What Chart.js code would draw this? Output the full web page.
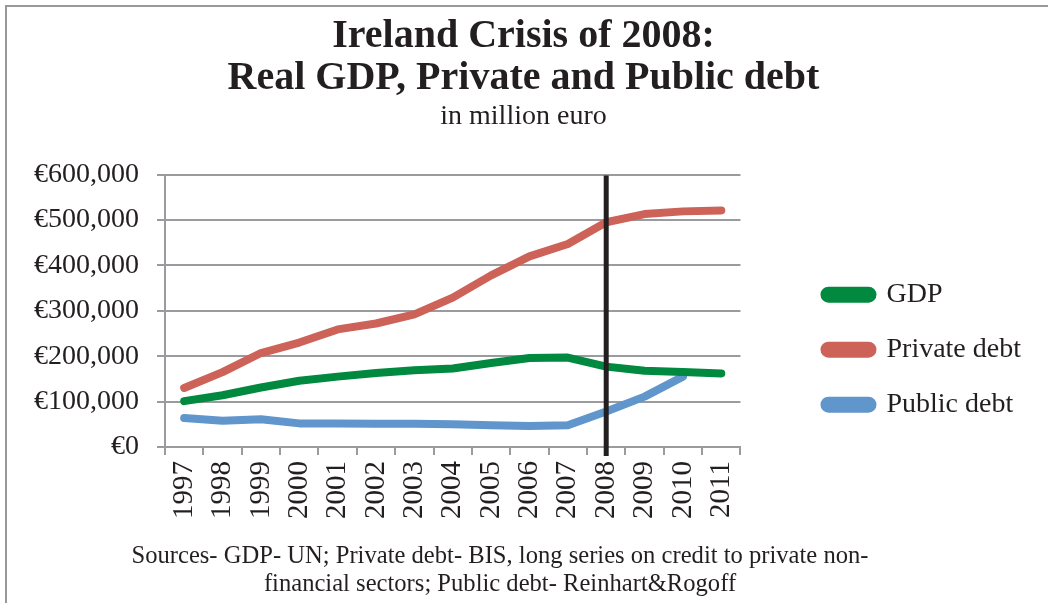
<!DOCTYPE html>
<html>
<head>
<meta charset="utf-8">
<script src="https://cdn.jsdelivr.net/npm/chart.js@4/dist/chart.umd.min.js"></script>
<style>
  body { margin: 0; background: #fff; }
  #wrap { position: relative; width: 1048px; height: 603px; overflow: hidden; }
  #frame { position: absolute; left: 5px; top: 5px; width: 1100px; height: 700px;
           border-left: 2px solid #999; border-top: 2px solid #999; }
  #chart { position: absolute; left: 0; top: 0; }
  #sources { position: absolute; left: 0; width: 1000px; top: 541px; text-align: center;
             font: 24.6px "Liberation Serif", serif; line-height: 28px; color: #231F20; }
</style>
</head>
<body>
<div id="wrap">
  <div id="frame"></div>
  <canvas id="chart" width="1048" height="603"></canvas>
  <div id="sources">Sources- GDP- UN; Private debt- BIS, long series on credit to private non-<br>financial sectors; Public debt- Reinhart&amp;Rogoff</div>
</div>
<script>
const years = ['1997', '1998', '1999', '2000', '2001', '2002', '2003', '2004',
  '2005', '2006', '2007', '2008', '2009', '2010', '2011'];
const gdp = [101000, 114000, 131000, 146000, 155000, 163000, 169000, 173000,
  185000, 196000, 197000, 177000, 168000, 165000, 162000];
const privateDebt = [130000, 165000, 207000, 230000, 259000, 272000, 292000, 329000,
  378000, 420000, 447000, 495000, 513000, 519000, 521000];
const publicDebt = [64000, 58000, 61000, 52000, 52000, 51000, 51000, 50000,
  48000, 46000, 48000, 78000, 111000, 155000, null];
const crisisYear = '2008';

const textColor = '#231F20';
const axisGray = '#9b9b9f';
const serif = '"Liberation Serif", serif';

// black vertical marker at the crisis year
const crisisLine = {
  id: 'crisisLine',
  afterDatasetsDraw(chart) {
    const { ctx, chartArea, scales } = chart;
    const x = scales.x.getPixelForValue(years.indexOf(crisisYear));
    ctx.save();
    ctx.strokeStyle = textColor;
    ctx.lineWidth = 5;
    ctx.beginPath();
    ctx.moveTo(x, chartArea.top + 1);
    ctx.lineTo(x, chartArea.bottom + 9);
    ctx.stroke();
    ctx.restore();
  }
};

const lineStyle = { borderWidth: 8, pointRadius: 0, tension: 0, borderCapStyle: 'round',
  borderJoinStyle: 'round', fill: false, spanGaps: false };

new Chart(document.getElementById('chart').getContext('2d'), {
  type: 'line',
  data: {
    labels: years,
    datasets: [
      { label: 'GDP', data: gdp, borderColor: '#00893F', backgroundColor: '#00893F', ...lineStyle },
      { label: 'Private debt', data: privateDebt, borderColor: '#CD6259', backgroundColor: '#CD6259', ...lineStyle },
      { label: 'Public debt', data: publicDebt, borderColor: '#6096CB', backgroundColor: '#6096CB', ...lineStyle }
    ]
  },
  options: {
    responsive: false,
    animation: false,
    layout: { padding: { left: 16, right: 17, top: 0, bottom: 78 } },
    plugins: {
      title: {
        display: true,
        text: ['Ireland Crisis of 2008:', 'Real GDP, Private and Public debt'],
        color: textColor,
        font: { family: serif, size: 40, weight: 'bold', lineHeight: 1.05 },
        padding: { top: 16, bottom: 0 }
      },
      subtitle: {
        display: true,
        text: 'in million euro',
        color: textColor,
        font: { family: serif, size: 28, lineHeight: 1.2 },
        padding: { top: 0, bottom: 41 }
      },
      legend: {
        position: 'right',
        maxWidth: 300,
        // empty legend title only pushes the entries down
        title: { display: true, text: ' ', padding: { top: 160, bottom: 0 } },
        labels: {
          color: textColor,
          font: { family: serif, size: 28 },
          boxWidth: 48,
          boxHeight: 8,
          useBorderRadius: true,
          borderRadius: 4,
          padding: 27
        }
      },
      tooltip: { enabled: false }
    },
    scales: {
      x: {
        offset: true,
        grid: { drawOnChartArea: false, drawTicks: true, tickLength: 8, color: axisGray, lineWidth: 2, offset: true },
        border: { color: axisGray, width: 2 },
        ticks: { color: textColor, font: { family: serif, size: 29 }, minRotation: 90, maxRotation: 90, padding: 6 }
      },
      y: {
        min: 0,
        max: 600000,
        grid: { color: axisGray, lineWidth: 2, tickLength: 8 },
        border: { color: axisGray, width: 2 },
        ticks: {
          stepSize: 100000,
          color: textColor,
          font: { family: serif, size: 28 },
          padding: 18,
          callback: v => '€' + v.toLocaleString('en-US')
        }
      },
      // blank spacer between the plot and the legend
      spacer: {
        position: 'right',
        display: true,
        grid: { display: false },
        border: { display: false },
        ticks: { display: false },
        afterFit(scale) { scale.width = 57; }
      }
    }
  },
  plugins: [crisisLine]
});
</script>
</body>
</html>
